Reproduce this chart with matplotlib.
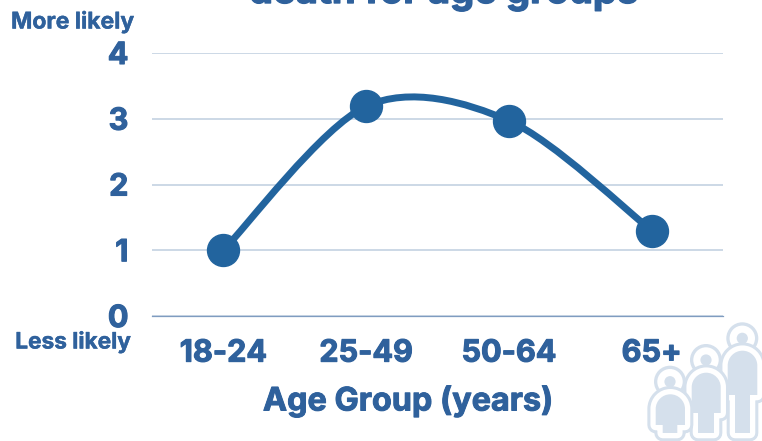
import numpy as np
import matplotlib
matplotlib.use("Agg")
import matplotlib.pyplot as plt
import matplotlib.patheffects as pe
from matplotlib.path import Path
from matplotlib.patches import PathPatch, Circle

plt.rcParams['font.family'] = ['Inter', 'DejaVu Sans']

categories = ["18-24", "25-49", "50-64", "65+"]
values = [1.0, 3.19, 2.97, 1.3]
y_ticks = [0, 1, 2, 3, 4]
title = "death for age groups"
x_label = "Age Group (years)"
top_note = "More likely"
bottom_note = "Less likely"

W, H = 762, 441
TEXT = "#2f619c"
LINE = "#22649e"
GRID = "#c4d2e2"
BASE = "#7f9cc0"
ICON = "#d5e0ec"


def heavy(width=0.5):
    return [pe.withStroke(linewidth=width, foreground=TEXT)]


fig = plt.figure(figsize=(W / 100, H / 100), dpi=100)
ax = fig.add_axes([152 / W, 1 - 316 / H, (723 - 152) / W, (316 - 53) / H])
ax.set_xlim(-0.5, 3.5)
ax.set_ylim(0, 4)
for s in ["top", "right", "left"]:
    ax.spines[s].set_visible(False)
ax.spines["bottom"].set_color(BASE)
ax.spines["bottom"].set_linewidth(0.9)
ax.set_axisbelow(True)
ax.yaxis.grid(True, color=GRID, linewidth=1.2)
ax.set_yticks(y_ticks)
ax.set_xticks(range(len(categories)))
ax.set_xticklabels(categories)
ax.tick_params(length=0)
ax.tick_params(axis="y", pad=17)
ax.tick_params(axis="x", pad=17)
for lab in ax.get_yticklabels() + ax.get_xticklabels():
    lab.set_fontweight("bold")
    lab.set_color(TEXT)
    lab.set_fontsize(22)
    lab.set_path_effects(heavy(0.8))

# Smooth line through the points (Catmull-Rom style Bezier segments)
xs = np.arange(len(values), dtype=float)
ys = np.array(values, dtype=float)
px = np.concatenate([[xs[0]], xs, [xs[-1]]])
py = np.concatenate([[ys[0]], ys, [ys[-1]]])
D = 6.5
verts = [(xs[0], ys[0])]
codes = [Path.MOVETO]
for i in range(1, len(px) - 2):
    verts += [
        (px[i] + (px[i + 1] - px[i - 1]) / D, py[i] + (py[i + 1] - py[i - 1]) / D),
        (px[i + 1] - (px[i + 2] - px[i]) / D, py[i + 1] - (py[i + 2] - py[i]) / D),
        (px[i + 1], py[i + 1]),
    ]
    codes += [Path.CURVE4] * 3
ax.add_patch(PathPatch(Path(verts, codes), fill=False, edgecolor=LINE, linewidth=5,
                       capstyle="round", zorder=3))
ax.plot(xs, ys, linestyle="none", marker="o", markersize=23, color=LINE, zorder=4,
        clip_on=False)

# Overlay in pixel coordinates for text and the decorative icon
ov = fig.add_axes([0, 0, 1, 1], facecolor="none")
ov.set_xlim(0, W)
ov.set_ylim(H, 0)
ov.axis("off")
ov.text(443.5, 3, title, ha="center", va="baseline", fontsize=27.5, fontweight="bold",
        color=TEXT, path_effects=heavy(1.0))
ov.text(72.5, 22, top_note, ha="center", va="center", fontsize=16.5, fontweight="bold",
        color=TEXT, path_effects=heavy(0.3))
ov.text(73, 342, bottom_note, ha="center", va="center", fontsize=16.3, fontweight="bold",
        color=TEXT, path_effects=heavy(0.3))
ov.text(408, 401, x_label, ha="center", va="center", fontsize=23.3, fontweight="bold",
        color=TEXT, path_effects=heavy(0.7))


def person(hx, hy, l, r, top, shoulder, leg_l, leg_r, bottom=433.0):
    c = (l + r) / 2
    rad = (r - l) / 2
    k = 0.55 * rad
    v = [(l, shoulder), (l, top + rad), (l, top + rad - k), (c - k, top), (c, top),
         (c + k, top), (r, top + rad - k), (r, top + rad), (r, shoulder),
         (leg_r, shoulder), (leg_r, bottom), (leg_l, bottom), (leg_l, shoulder), (l, shoulder), (l, shoulder)]
    co = [Path.MOVETO, Path.LINETO, Path.CURVE4, Path.CURVE4, Path.CURVE4,
          Path.CURVE4, Path.CURVE4, Path.CURVE4, Path.LINETO,
          Path.LINETO, Path.LINETO, Path.LINETO, Path.LINETO, Path.LINETO, Path.CLOSEPOLY]
    body = Path(v, co)
    ov.add_patch(Circle((hx, hy), 16, fc=ICON, ec="none"))
    ov.add_patch(Circle((hx, hy), 12.7, fc="white", ec="none"))
    ov.add_patch(Circle((hx, hy), 5.6, fc=ICON, ec="none"))
    ov.add_patch(PathPatch(body, fc=ICON, ec=ICON, lw=12, joinstyle="round"))
    ov.add_patch(PathPatch(body, fc="white", ec="white", lw=7.6, joinstyle="round"))
    ov.add_patch(PathPatch(body, fc=ICON, ec="none"))


person(742.3, 338.3, 727.7, 757.3, 350.7, 395, 735, 750)
person(706, 360, 691.7, 720.7, 372.7, 413, 698, 714)
person(670, 381.7, 655.7, 685, 394.3, 425, 662.7, 677.3)

fig.savefig("out.png", dpi=100)
